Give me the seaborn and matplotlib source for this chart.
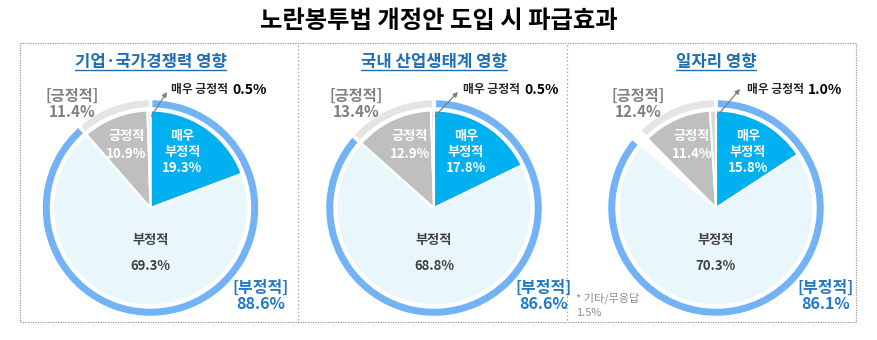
import matplotlib
matplotlib.use("Agg")
import matplotlib.pyplot as plt
import seaborn as sns
from matplotlib.patches import Rectangle

# ---------------- data ----------------
main_title = "노란봉투법 개정안 도입 시 파급효과"
panel_titles = ["기업·국가경쟁력 영향", "국내 산업생태계 영향", "일자리 영향"]
very_neg = [19.3, 17.8, 15.8]
neg = [69.3, 68.8, 70.3]
other = [0.0, 0.0, 1.5]
pos = [10.9, 12.9, 11.4]
very_pos = [0.5, 0.5, 1.0]
neg_total = [88.6, 86.6, 86.1]
pos_total = [11.4, 13.4, 12.4]
footnote = "* 기타/무응답"
footnote_val = "1.5%"

# ---------------- style ----------------
sns.set_theme(style="white")
plt.rcParams['font.family'] = ['Noto Sans CJK KR', 'DejaVu Sans']

C_VNEG = "#00B0F0"
C_NEG = "#E9F7FD"
C_POS = "#BFBFBF"
C_VPOS = "#D9D9D9"
C_RING_B = "#72B3F5"
C_RING_G = "#E4E4E4"
C_BLUE_TXT = "#1F78C8"
C_SUB = "#1F6DB5"
C_GRAY_TXT = "#808080"

W, H = 878, 340
fig = plt.figure(figsize=(W / 100, H / 100), dpi=100)
ax = fig.add_axes([0, 0, 1, 1])


def Y(y):
    return H - y


centers_x = [150.5, 434, 716]
cy = 208
R_out, ring_w, R_in = 109.5, 10.5, 97.5
vp_label_dx = [21, 29, 31]
arrow_end = [(16.5, 92), (24, 92), (24, 89)]

for i in range(3):
    cx = centers_x[i]
    inner_vals = [very_neg[i], neg[i], other[i], pos[i], very_pos[i]]
    inner_cols = [C_VNEG, C_NEG, "white", C_POS, C_VPOS]
    ax.pie(inner_vals, colors=inner_cols, startangle=90, counterclock=False,
           radius=R_in, center=(cx, Y(cy)), frame=True,
           wedgeprops=dict(edgecolor="white", linewidth=1.5))
    ring_vals = [neg_total[i], other[i], pos_total[i]]
    ax.pie(ring_vals, colors=[C_RING_B, "white", C_RING_G], startangle=90,
           counterclock=False, radius=R_out, center=(cx, Y(cy)), frame=True,
           wedgeprops=dict(width=ring_w, edgecolor="white", linewidth=2.5))

    # panel title
    ax.text(cx, Y(62), panel_titles[i], ha="center", va="center",
            fontsize=12, fontweight="bold", color=C_SUB)

    # inner labels
    ax.text(cx + 32, Y(152), f"매우\n부정적\n{very_neg[i]}%", ha="center", va="center",
            fontsize=9.5, fontweight="bold", color="white", linespacing=1.2)
    ax.text(cx - 24, Y(145), f"긍정적\n{pos[i]}%", ha="center", va="center",
            fontsize=9.5, fontweight="bold", color="white", linespacing=1.3)
    ax.text(cx, Y(253), f"부정적\n\n{neg[i]}%", ha="center", va="center",
            fontsize=9.5, fontweight="bold", color="#404040", linespacing=0.9)

    # outside labels
    ax.text(cx - 78, Y(104), f"[긍정적]\n{pos_total[i]}%", ha="center", va="center",
            fontsize=11, fontweight="bold", color=C_GRAY_TXT, linespacing=1.0)
    ax.text(cx + 110, Y(296), f"[부정적]\n{neg_total[i]}%", ha="center", va="center",
            fontsize=11.5, fontweight="bold", color=C_BLUE_TXT, linespacing=1.0)

    # very positive annotation
    ex, ey = arrow_end[i]
    ax.annotate("", xy=(cx + ex, Y(ey)), xytext=(cx + 1, Y(116)),
                arrowprops=dict(arrowstyle="-|>", color="#7F7F7F", lw=0.9,
                                mutation_scale=7, shrinkA=0, shrinkB=0))
    lx = cx + vp_label_dx[i]
    ax.text(lx, Y(90), "매우 긍정적 ", ha="left", va="center",
            fontsize=8.5, fontweight="bold", color="#262626")
    ax.text(lx + 61, Y(90), f"{very_pos[i]}%", ha="left", va="center",
            fontsize=10, fontweight="bold", color="#000000")

# main title
ax.text(W / 2, Y(21), main_title, ha="center", va="center", fontsize=17.5,
        fontweight="bold", color="#000000")

# footnote
ax.text(576, Y(298), footnote, ha="left", va="center", fontsize=8, color="#8C8C8C")
ax.text(576, Y(313), footnote_val, ha="left", va="center", fontsize=8, color="#8C8C8C")

# dotted frame and separators
ax.add_patch(Rectangle((20, Y(322)), 836, 279, fill=False, edgecolor="#9A9A9A",
                       linestyle=(0, (1, 1)), linewidth=0.9))
for sx in [298, 567]:
    ax.plot([sx, sx], [Y(45), Y(320)], color="#9A9A9A", linestyle=(0, (1, 2)), linewidth=0.9)

ax.set_xlim(0, W)
ax.set_ylim(0, H)
ax.set_aspect("equal")
ax.axis("off")

# underlines for panel titles
fig.canvas.draw()
renderer = fig.canvas.get_renderer()
inv = ax.transData.inverted()
for txt in [t_ for t_ in ax.texts if t_.get_text() in panel_titles]:
    bb = txt.get_window_extent(renderer)
    (x0, y0), (x1, y1) = inv.transform([(bb.x0, bb.y0), (bb.x1, bb.y1)])
    ax.plot([x0, x1], [y0 + 1.5, y0 + 1.5], color=C_SUB, lw=1.0)

fig.savefig("out.png", dpi=100)
